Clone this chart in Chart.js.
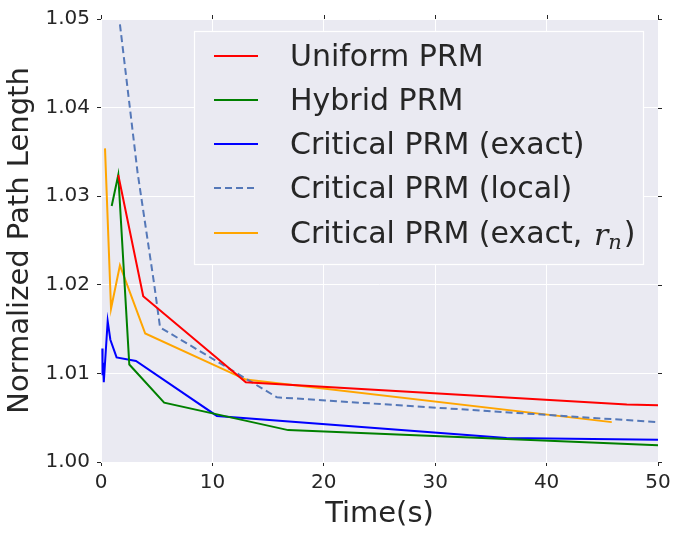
<!DOCTYPE html>
<html>
<head>
<meta charset="utf-8">
<script src="https://cdn.jsdelivr.net/npm/chart.js@4.4.0/dist/chart.umd.min.js"></script>
<style>
  html, body { margin: 0; padding: 0; background: #fff; }
  #wrap { width: 679px; height: 534px; }
</style>
</head>
<body>
<div id="wrap"><canvas id="chart" width="679" height="534"></canvas></div>
<script>
// tick labels
const xTicks = [0, 10, 20, 30, 40, 50];
const yTicks = [1.00, 1.01, 1.02, 1.03, 1.04, 1.05];

// series (time in s, normalized path length)
const uniformTime = [1.55, 3.79, 13.0, 47.2, 50];
const uniformLength = [1.0324, 1.0187, 1.0090, 1.0065, 1.0064];

const hybridTime = [0.96, 1.55, 2.54, 5.67, 16.8, 50];
const hybridLength = [1.0289, 1.0324, 1.0110, 1.0067, 1.0036, 1.0019];

const exactTime = [0.12, 0.14, 0.18, 0.25, 0.6, 0.84, 1.4, 3.14, 10.4, 36.4, 50];
const exactLength = [1.0128, 1.0098, 1.0112, 1.0090, 1.0159, 1.0138, 1.0118, 1.0114, 1.0052, 1.0027, 1.0025];

const localTime = [1.7, 3.28, 4.77, 5.3, 15.8, 50];
const localLength = [1.0494, 1.0327, 1.0201, 1.0152, 1.0073, 1.0045];

const exactRnTime = [0.36, 0.9, 1.7, 3.97, 13.0, 45.85];
const exactRnLength = [1.0354, 1.0173, 1.0222, 1.0145, 1.0093, 1.0045];

const FONT = "'DejaVu Sans', sans-serif";
const TEXT = "#262626";

function pts(xs, ys) {
  return xs.map((x, i) => ({ x: x, y: ys[i] }));
}

function line(label, xs, ys, color, dash) {
  return {
    label: label,
    data: pts(xs, ys),
    borderColor: color,
    borderWidth: 2,
    borderDash: dash || [],
    pointRadius: 0,
    tension: 0,
    fill: false
  };
}

// legend drawn by hand so the r_n subscript can be set
const legendBox = {
  id: "legendBox",
  afterDraw(chart) {
    const ctx = chart.ctx;
    ctx.save();
    ctx.fillStyle = "#EAEAF2";
    ctx.fillRect(194, 31, 450, 233);
    ctx.strokeStyle = "#ffffff";
    ctx.lineWidth = 1.2;
    ctx.strokeRect(194.5, 31.5, 449, 233);
    const rowY = [56, 100, 144, 188, 233];
    chart.data.datasets.forEach((ds, i) => {
      const y = rowY[i];
      ctx.strokeStyle = ds.borderColor;
      ctx.lineWidth = 2;
      ctx.setLineDash(ds.borderDash);
      ctx.beginPath();
      ctx.moveTo(214, y);
      ctx.lineTo(258, y);
      ctx.stroke();
      ctx.setLineDash([]);
      ctx.fillStyle = TEXT;
      ctx.font = "30px " + FONT;
      ctx.textBaseline = "middle";
      ctx.textAlign = "left";
      const ty = y + 2;
      if (i === 4) {
        let x = 290;
        const first = "Critical PRM (exact, ";
        ctx.fillText(first, x, ty);
        x += ctx.measureText(first).width + 2;
        ctx.font = "italic 30px 'DejaVu Serif', serif";
        ctx.fillText("r", x, ty + 2);
        x += ctx.measureText("r").width;
        ctx.font = "italic 21px 'DejaVu Serif', serif";
        ctx.fillText("n", x, ty + 9);
        x += ctx.measureText("n").width + 2;
        ctx.font = "30px " + FONT;
        ctx.fillText(")", x, ty);
      } else {
        ctx.fillText(ds.label, 290, ty);
      }
    });
    ctx.restore();
  }
};

// plot background and the small ticks on the top and right edges
const frame = {
  id: "frame",
  beforeDraw(chart) {
    const a = chart.chartArea;
    const ctx = chart.ctx;
    ctx.save();
    ctx.fillStyle = "#ffffff";
    ctx.fillRect(0, 0, chart.width, chart.height);
    ctx.fillStyle = "#EAEAF2";
    ctx.fillRect(a.left, a.top, a.right - a.left, a.bottom - a.top);
    ctx.restore();
  },
  afterDraw(chart) {
    const a = chart.chartArea;
    const ctx = chart.ctx;
    ctx.save();
    ctx.strokeStyle = TEXT;
    ctx.lineWidth = 1;
    xTicks.forEach(v => {
      const px = Math.round(chart.scales.x.getPixelForValue(v)) + 0.5;
      ctx.beginPath();
      ctx.moveTo(px, a.top);
      ctx.lineTo(px, a.top - 4);
      ctx.stroke();
    });
    yTicks.forEach(v => {
      const py = Math.round(chart.scales.y.getPixelForValue(v)) + 0.5;
      ctx.beginPath();
      ctx.moveTo(a.right, py);
      ctx.lineTo(a.right + 4, py);
      ctx.stroke();
    });
    ctx.restore();
  }
};

new Chart(document.getElementById("chart"), {
  type: "line",
  data: {
    datasets: [
      line("Uniform PRM", uniformTime, uniformLength, "#FF0000"),
      line("Hybrid PRM", hybridTime, hybridLength, "#008000"),
      line("Critical PRM (exact)", exactTime, exactLength, "#0000FF"),
      line("Critical PRM (local)", localTime, localLength, "#5578B8", [7, 4]),
      line("Critical PRM (exact, r_n)", exactRnTime, exactRnLength, "#FFA500")
    ]
  },
  options: {
    responsive: false,
    animation: false,
    layout: { padding: { top: 17, right: 21, left: 0, bottom: 0 } },
    plugins: {
      legend: { display: false },
      tooltip: { enabled: false }
    },
    scales: {
      x: {
        type: "linear",
        min: 0,
        max: 50,
        afterBuildTicks: s => { s.ticks = xTicks.map(v => ({ value: v })); },
        afterFit: s => { s.height = 72; },
        border: { display: false },
        grid: { color: "#ffffff", lineWidth: 1, tickColor: TEXT, tickLength: 4 },
        ticks: {
          font: { family: FONT, size: 20 },
          color: TEXT,
          padding: 5,
          maxRotation: 0,
          callback: v => String(v)
        },
        title: {
          display: true,
          text: "Time(s)",
          font: { family: FONT, size: 29 },
          color: TEXT,
          padding: { top: 0, bottom: 2 }
        }
      },
      y: {
        min: 1.0,
        max: 1.05,
        afterBuildTicks: s => { s.ticks = yTicks.map(v => ({ value: v })); },
        afterFit: s => { s.width = 101; },
        border: { display: false },
        grid: { color: "#ffffff", lineWidth: 1, tickColor: TEXT, tickLength: 4 },
        ticks: {
          font: { family: FONT, size: 20 },
          color: TEXT,
          padding: 7,
          callback: v => Number(v).toFixed(2)
        },
        title: {
          display: true,
          text: "Normalized Path Length",
          font: { family: FONT, size: 29 },
          color: TEXT,
          padding: { top: 3, bottom: 0 }
        }
      }
    }
  },
  plugins: [frame, legendBox]
});
</script>
</body>
</html>
